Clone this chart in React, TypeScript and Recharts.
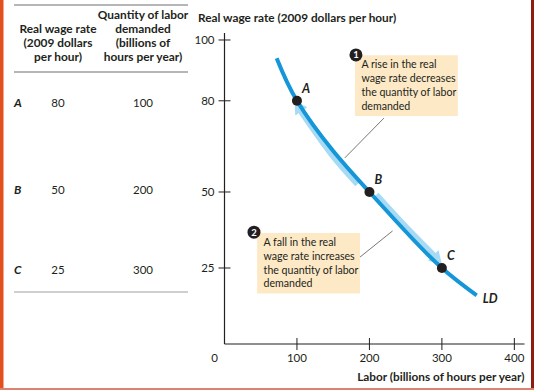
import React from 'react';
import { LineChart, Line, XAxis, YAxis, ReferenceDot, ReferenceArea, ReferenceLine } from 'recharts';

// Table / points
const pointNames = ['A', 'B', 'C'];
const wageValues = [80, 50, 25];
const laborValues = [100, 200, 300];

// LD curve
const curveLabor = [72, 100, 150, 200, 250, 300, 348];
const curveWage = [94, 80, 63.5, 50, 37, 25, 16];

// Light-blue movement bands (slightly offset from the curve)
const bandUpLabor = [184, 147, 103];
const bandUpWage = [52.7, 62.9, 77.6];
const bandDownLabor = [209, 253, 292];
const bandDownWage = [49.0, 37.6, 28.2];

const xTicks = [0, 100, 200, 300, 400];
const yTicks = [25, 50, 80, 100];

// Annotations
const note1Lines = ['A rise in the real', 'wage rate decreases', 'the quantity of labor', 'demanded'];
const note2Lines = ['A fall in the real', 'wage rate increases', 'the quantity of labor', 'demanded'];

const FONT = 'Lato, "Open Sans", sans-serif';
const DARK = '#231f20';
const CURVE = '#1496d8';
const BAND = '#a6daf5';
const BEIGE = '#fde9c6';

const zip = (xs: number[], ys: number[]) => xs.map((x, i) => ({ x, y: ys[i] }));
const curveData = zip(curveLabor, curveWage);
const bandUpData = zip(bandUpLabor, bandUpWage);
const bandDownData = zip(bandDownLabor, bandDownWage);

const YTick = (props: any) => {
  const { x, y, payload } = props;
  return (
    <g>
      <line x1={x - 6} x2={x + 6} y1={y} y2={y} stroke={DARK} strokeWidth={1} />
      <text x={x - 10} y={y} dy={4} textAnchor="end" fontSize={11.5} fill={DARK} fontFamily={FONT}>
        {payload.value}
      </text>
    </g>
  );
};

const XTick = (props: any) => {
  const { x, y, payload } = props;
  if (payload.value === 0) {
    return (
      <text x={x - 10} y={y + 18} textAnchor="middle" fontSize={11.5} fill={DARK} fontFamily={FONT}>
        0
      </text>
    );
  }
  return (
    <g>
      <line x1={x} x2={x} y1={y - 6} y2={y + 6} stroke={DARK} strokeWidth={1} />
      <text x={x} y={y + 18} textAnchor="middle" fontSize={11.5} fill={DARK} fontFamily={FONT}>
        {payload.value}
      </text>
    </g>
  );
};

const noteContent = (lines: string[]) => (props: any) => {
  const vb = props.viewBox || {};
  return (
    <text fontSize={10.6} fill={DARK} fontFamily={FONT}>
      {lines.map((l, i) => (
        <tspan key={i} x={vb.x + 6.5} y={vb.y + 13 + i * 13.8}>
          {l}
        </tspan>
      ))}
    </text>
  );
};

const letterLabel = (txt: string, dx: number, dy: number) => (props: any) => {
  const vb = props.viewBox || {};
  const cx = vb.x + (vb.width || 0) / 2;
  const cy = vb.y + (vb.height || 0) / 2;
  return (
    <text x={cx + dx} y={cy + dy} fontSize={12.5} fontWeight={700} fontStyle="italic" fill={DARK} fontFamily={FONT}>
      {txt}
    </text>
  );
};

const numberLabel = (txt: string) => (props: any) => {
  const vb = props.viewBox || {};
  const cx = vb.x + (vb.width || 0) / 2;
  const cy = vb.y + (vb.height || 0) / 2;
  return (
    <text x={cx} y={cy + 3.5} textAnchor="middle" fontSize={9.5} fontWeight={700} fill="#fff" fontFamily={FONT}>
      {txt}
    </text>
  );
};

const TableOverlay = () => {
  const rowY = [103, 190, 270];
  const hdr = { fontSize: 11.9, fontWeight: 700, fill: DARK, fontFamily: FONT } as any;
  return (
    <svg width={534} height={390} style={{ position: 'absolute', left: 0, top: 0, pointerEvents: 'none' }}>
      <line x1={14} x2={188} y1={5} y2={5} stroke="#6d6e71" strokeWidth={1.2} />
      <text {...hdr} textAnchor="middle">
        <tspan x={58} y={33}>Real wage rate</tspan>
        <tspan x={58} y={47}>(2009 dollars</tspan>
        <tspan x={58} y={61}>per hour)</tspan>
      </text>
      <text {...hdr} textAnchor="middle">
        <tspan x={143} y={19}>Quantity of labor</tspan>
        <tspan x={143} y={33}>demanded</tspan>
        <tspan x={143} y={47}>(billions of</tspan>
        <tspan x={143} y={61}>hours per year)</tspan>
      </text>
      <line x1={14} x2={188} y1={72} y2={72} stroke="#6d6e71" strokeWidth={1.2} />
      {pointNames.map((n, i) => (
        <g key={n}>
          <text x={14} y={rowY[i] + 4} fontSize={12} fontWeight={700} fontStyle="italic" fill={DARK} fontFamily={FONT}>
            {n}
          </text>
          <text x={58} y={rowY[i] + 4} textAnchor="middle" fontSize={11.5} fill={DARK} fontFamily={FONT}>
            {wageValues[i]}
          </text>
          <text x={143} y={rowY[i] + 4} textAnchor="middle" fontSize={11.5} fill={DARK} fontFamily={FONT}>
            {laborValues[i]}
          </text>
        </g>
      ))}
      <line x1={14} x2={188} y1={292} y2={292} stroke="#9d9fa2" strokeWidth={1.2} />
      <text x={198} y={22} fontSize={11.8} fontWeight={700} fill={DARK} fontFamily={FONT}>
        Real wage rate (2009 dollars per hour)
      </text>
      {/* frame edges */}
      <rect x={0} y={0} width={3.5} height={390} fill="#e2501d" />
      <rect x={531} y={0} width={3} height={390} fill="#8e1d10" />
      <rect x={0} y={388} width={534} height={2} fill="#d9826e" />
    </svg>
  );
};

export default function App() {
  return (
    <div style={{ position: 'absolute', left: 0, top: 0, width: 534, height: 390, background: '#fff', overflow: 'hidden' }}>
      <svg width={0} height={0} style={{ position: 'absolute' }}>
        <defs>
          <marker id="bandArrow" viewBox="0 0 12 15" refX={4} refY={7.5} markerWidth={12} markerHeight={15} orient="auto" markerUnits="userSpaceOnUse">
            <path d="M0,0 L12,7.5 L0,15 z" fill={BAND} />
          </marker>
        </defs>
      </svg>
      <LineChart width={534} height={390} margin={{ top: 33, right: 9.5, bottom: 0, left: 194.5 }}>
        <XAxis
          dataKey="x"
          type="number"
          domain={[0, 414]}
          ticks={xTicks}
          tick={<XTick />}
          tickSize={0}
          tickMargin={0}
          height={46}
          stroke={DARK}
          axisLine={{ stroke: DARK, strokeWidth: 1.2 }}
          allowDataOverflow
          label={(props: any) => {
            const vb = props.viewBox || {};
            return (
              <text x={vb.x + vb.width} y={vb.y + 37} textAnchor="end" fontSize={11.8} fontWeight={700} fill={DARK} fontFamily={FONT}>
                Labor (billions of hours per year)
              </text>
            );
          }}
        />
        <YAxis
          type="number"
          domain={[0, 102.3]}
          ticks={yTicks}
          tick={<YTick />}
          tickSize={0}
          tickMargin={0}
          width={30}
          stroke={DARK}
          axisLine={{ stroke: DARK, strokeWidth: 1.2 }}
          allowDataOverflow
        />
        <ReferenceArea x1={180} x2={322} y1={75} y2={95} fill={BEIGE} fillOpacity={1} stroke="none" label={noteContent(note1Lines)} />
        <ReferenceArea x1={45} x2={187} y1={16.6} y2={36.5} fill={BEIGE} fillOpacity={1} stroke="none" label={noteContent(note2Lines)} />
        <ReferenceLine segment={[{ x: 220, y: 74.3 }, { x: 166, y: 61.2 }]} stroke="#555" strokeWidth={0.8} />
        <ReferenceLine segment={[{ x: 187, y: 28.6 }, { x: 232, y: 37.2 }]} stroke="#555" strokeWidth={0.8} />
        <ReferenceDot x={181.4} y={95.1} r={6.5} fill={DARK} stroke="none" label={numberLabel('1')} />
        <ReferenceDot x={40.7} y={36.8} r={6.5} fill={DARK} stroke="none" label={numberLabel('2')} />
        <Line data={bandUpData} dataKey="y" type="natural" stroke={BAND} strokeWidth={7} dot={false} isAnimationActive={false} markerEnd="url(#bandArrow)" />
        <Line data={bandDownData} dataKey="y" type="natural" stroke={BAND} strokeWidth={7} dot={false} isAnimationActive={false} markerEnd="url(#bandArrow)" />
        <Line data={curveData} dataKey="y" type="natural" stroke={CURVE} strokeWidth={4} dot={false} isAnimationActive={false} />
        {pointNames.map((n, i) => (
          <ReferenceDot
            key={n}
            x={laborValues[i]}
            y={wageValues[i]}
            r={5}
            fill={DARK}
            stroke="none"
            label={letterLabel(n, 5, -8)}
          />
        ))}
        <ReferenceDot
          x={curveLabor[curveLabor.length - 1]}
          y={curveWage[curveWage.length - 1]}
          r={0}
          fill="none"
          stroke="none"
          label={letterLabel('LD', 6, 8)}
        />
      </LineChart>
      <TableOverlay />
    </div>
  );
}
